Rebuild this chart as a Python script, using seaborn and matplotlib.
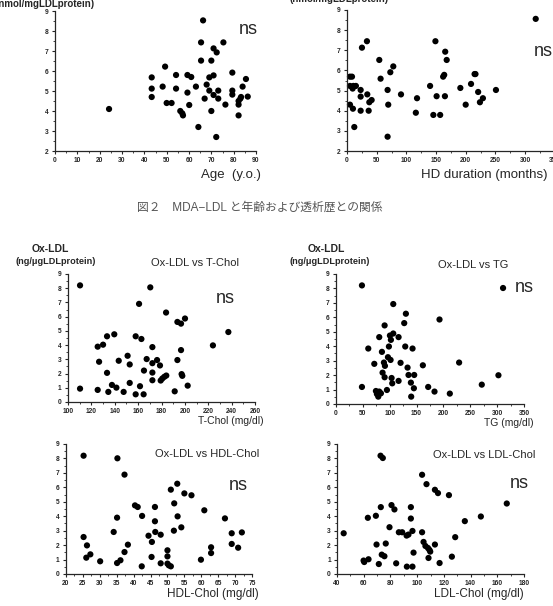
import numpy as np
import pandas as pd
import matplotlib
matplotlib.use('Agg')
import matplotlib.pyplot as plt
from matplotlib.ticker import MultipleLocator
import seaborn as sns

# MDA-LDL vs age / HD duration
age = [24.2, 43.3, 43.3, 43.3, 48.2, 49.3, 50, 52.2, 54.2, 54.2, 56.1, 57, 57.3, 59.3,
       59.3, 60.1, 61, 63.1, 64.2, 65.4, 65.4, 66.3, 67, 67.9, 69.1, 69.1, 70, 70, 71,
       71, 71, 72.4, 72.2, 73.1, 73.1, 75.4, 76.3, 79.4, 79.4, 79.4, 82.2, 82.2, 82.2,
       83, 83.3, 84, 85.5, 86.3]
mda_age = [4.1, 5.68, 5.12, 4.7, 5.22, 6.22, 4.4, 4.4, 5.8, 5.12, 4.0, 3.88, 3.78, 5.8,
           4.92, 4.3, 5.7, 5.22, 3.2, 6.52, 7.43, 8.53, 4.62, 5.32, 5.68, 5.02, 6.52, 4.0,
           7.13, 5.78, 4.8, 6.93, 2.7, 5.02, 4.62, 7.43, 4.32, 5.92, 5.02, 4.82, 3.78, 4.32,
           4.5, 4.62, 4.7, 5.22, 5.6, 4.72]

hd = [5, 8.4, 5, 10.7, 15, 9.5, 5, 10, 12.3, 23, 23, 23, 25.2, 33.6, 34.2, 37.6, 41.5,
      36.5, 54.4, 56.6, 68.4, 69.5, 68.4, 73, 78, 91, 116, 118, 140, 145.5, 149, 151, 157,
      162, 163.8, 165, 165.5, 168, 191, 200, 209, 215, 216.5, 221, 224, 229, 251, 318]
mda_hd = [5.69, 5.69, 5.23, 5.23, 5.23, 5.1, 4.3, 4.1, 3.19, 5.03, 4.7, 4.0, 7.13, 7.45,
          4.81, 4.42, 4.53, 4.0, 6.52, 5.59, 5.03, 4.3, 2.71, 5.91, 6.2, 4.81, 3.9, 4.62,
          5.23, 3.79, 7.45, 4.72, 3.79, 5.69, 5.78, 4.72, 6.93, 6.52, 5.13, 4.3, 5.33, 5.82,
          5.82, 4.93, 4.42, 4.62, 5.03, 8.56]

# Ox-LDL vs lipids
tchol = [110.3, 110.3, 125.4, 125.4, 126.6, 130, 133.4, 133.4, 134.5, 137.6, 139.6, 141.4,
         143.4, 147.6, 151, 152.8, 152.8, 157.9, 157.9, 160.8, 161.6, 162.8, 164.7, 165,
         167.3, 170.4, 172.2, 172.2, 172.2, 172.2, 176.2, 178.7, 179.3, 180.7, 182.4,
         183.9, 184.1, 191.3, 193.6, 193.6, 196.7, 196.7, 197.2, 197.8, 200.1, 202.4,
         224, 237.2]
ox_tchol = [8.2, 0.94, 3.89, 0.85, 2.83, 4.03, 4.62, 2.05, 0.71, 1.2, 4.76, 1.01, 2.9, 0.71,
            3.25, 2.64, 1.34, 4.62, 0.54, 6.9, 1.11, 4.43, 0.54, 2.21, 3.02, 8.06, 3.86,
            2.73, 2.07, 1.53, 2.95, 2.57, 1.51, 1.65, 1.77, 6.29, 1.86, 0.75, 5.63, 2.95,
            5.51, 3.65, 1.96, 1.84, 5.87, 1.15, 3.98, 4.92]

tg = [48.3, 60.1, 48.3, 71.3, 74.3, 76.2, 80.5, 80.5, 78.7, 83.6, 85.5, 86.7, 89.2, 90.5,
      90.5, 91.1, 94.8, 96.7, 98.5, 100.4, 102.2, 101.6, 103.5, 104.7, 106.6, 106.6, 116.5,
      116.5, 120.2, 127, 128.9, 130.1, 133.2, 135, 139.4, 140, 142.5, 145, 145.6, 161.7,
      171.6, 183.4, 192.7, 211.9, 229.2, 271.4, 302.4, 311]
ox_tg = [8.21, 3.84, 1.18, 2.78, 0.9, 0.69, 0.86, 4.63, 0.51, 0.74, 3.61, 2.17, 2.87, 5.44,
         1.85, 2.64, 0.97, 3.24, 3.98, 4.74, 4.44, 3.05, 1.8, 1.43, 6.92, 4.88, 4.63, 1.6,
         2.85, 5.6, 3.98, 6.25, 2.52, 2.01, 1.48, 0.51, 3.84, 1.09, 2.01, 2.68, 1.18, 0.86,
         5.85, 0.72, 2.87, 1.34, 1.99, 8.03]

hdl = [25.2, 25.2, 26.2, 26, 27.2, 30.1, 34.1, 35.2, 35.1, 35.1, 36.1, 37.3, 37.3, 38.3,
       40.4, 41.2, 42.5, 42.4, 44.4, 45.4, 45.3, 46.3, 46.3, 46.4, 48, 48, 50, 50, 50, 50.4,
       51, 51, 51.9, 52, 52.9, 53, 54.1, 55, 57.1, 59.9, 60.9, 62.9, 62.9, 67, 69, 69,
       70.9, 72]
ox_hdl = [8.19, 2.56, 1.98, 1.13, 1.36, 0.88, 2.91, 8.01, 3.9, 0.76, 0.95, 6.88, 1.52, 2.03,
          4.75, 4.64, 4.02, 0.53, 2.65, 2.22, 1.18, 4.64, 3.65, 2.91, 2.72, 0.74, 1.64, 1.22,
          0.72, 0.6, 0.53, 5.84, 3.0, 4.89, 6.25, 3.99, 3.23, 5.58, 5.45, 0.99, 4.41, 1.85,
          1.45, 3.85, 2.82, 2.08, 1.82, 2.88]

ldl = [45, 59.9, 60.4, 63.6, 63.1, 69.1, 69.6, 71.3, 72.6, 74.3, 72.8, 73.5, 75.5, 76.5,
       79.3, 80.8, 83, 84.3, 86.3, 88.8, 92.1, 93.5, 92.3, 95.3, 95.3, 96.5, 96.5, 97.3,
       103.7, 103.7, 104.8, 106.2, 107, 108.1, 108.5, 109.2, 109.8, 113.3, 113.3, 115.6,
       116.8, 123.8, 126, 128.5, 135.7, 147.7, 167.1]
ox_ldl = [2.82, 0.93, 0.83, 1.02, 3.89, 4.03, 2.04, 0.69, 8.19, 8.03, 4.63, 1.34, 1.23, 2.11,
          3.24, 4.77, 4.47, 0.74, 2.89, 2.89, 2.66, 2.73, 0.51, 4.63, 3.84, 2.98, 0.51, 1.48,
          6.87, 2.89, 2.22, 1.94, 6.22, 1.8, 1.11, 1.67, 1.55, 5.83, 2.04, 5.6, 0.76, 5.46,
          1.2, 2.55, 3.66, 3.98, 4.88]

sns.set_style('ticks')
plt.rcParams['font.family'] = ['Liberation Sans', 'Noto Sans CJK JP', 'DejaVu Sans']

W, H = 553, 606
fig = plt.figure(figsize=(W / 100, H / 100), dpi=100)


def px_axes(x0, x1, ytop, ybot):
    return fig.add_axes([x0 / W, 1 - ybot / H, (x1 - x0) / W, (ybot - ytop) / H])


def txt(x, y, s, size, **kw):
    fig.text(x / W, 1 - y / H, s, fontsize=size, ha=kw.pop('ha', 'center'),
             va=kw.pop('va', 'center'), **kw)


def panel(ax, x, y, xlim, xstep, ylim):
    df = pd.DataFrame({'x': x, 'y': y})
    sns.scatterplot(data=df, x='x', y='y', ax=ax, color='black', s=20,
                    edgecolor='none', clip_on=False)
    ax.set_xlim(*xlim)
    ax.set_ylim(*ylim)
    ax.xaxis.set_major_locator(MultipleLocator(xstep))
    ax.xaxis.set_minor_locator(MultipleLocator(xstep / 2))
    ax.yaxis.set_major_locator(MultipleLocator(1))
    ax.yaxis.set_minor_locator(MultipleLocator(0.5))
    ax.set_xlabel('')
    ax.set_ylabel('')
    sns.despine(ax=ax)
    ax.tick_params(which='major', length=2.5, width=0.8, labelsize=4.8, pad=2)
    ax.tick_params(which='minor', length=1.5, width=0.6)
    for lab in ax.get_xticklabels() + ax.get_yticklabels():
        lab.set_fontweight('bold')
    for sp in ax.spines.values():
        sp.set_linewidth(0.9)
    ax.set_facecolor('none')


# top row: MDA-LDL
ax1 = px_axes(55, 256, 11, 151)
panel(ax1, age, mda_age, (0, 90), 10, (2, 9))
ax2 = px_axes(347, 554.7, 10, 151)
panel(ax2, hd, mda_hd, (0, 350), 50, (2, 9))

# unit labels are clipped by the top edge in the original scan
txt(-4, 4, '(nmol/mgLDLprotein)', 7, ha='left', fontweight='bold')
txt(289, -1, '(nmol/mgLDLprotein)', 7, ha='left', fontweight='bold')
txt(248, 29, 'ns', 13)
txt(543, 52, 'ns', 13)
txt(231, 175, 'Age  (y.o.)', 9.5)
txt(484, 175, 'HD duration (months)', 9.5)
txt(260, 208, '図２　MDA−LDL と年齢および透析歴との関係', 8.5, color='#555555')

# middle row
ax3 = px_axes(68, 255, 274, 402)
panel(ax3, tchol, ox_tchol, (100, 260), 20, (0, 9))
ax4 = px_axes(336, 524, 274, 404)
panel(ax4, tg, ox_tg, (0, 350), 50, (0, 9))

for cx, ux in ((50, 56), (326, 330)):
    txt(cx, 249, 'Ox-LDL', 7.5, fontweight='bold')
    txt(ux, 262, '(ng/μgLDLprotein)', 6.6, fontweight='bold')
txt(195, 263, 'Ox-LDL vs T-Chol', 8)
txt(473, 265, 'Ox-LDL vs TG', 8)
txt(225, 299, 'ns', 13)
txt(524, 287, 'ns', 13)
txt(231, 421, 'T-Chol (mg/dl)', 7.5)
txt(509, 423, 'TG (mg/dl)', 7.5)

# bottom row
ax5 = px_axes(66, 252, 444, 574)
panel(ax5, hdl, ox_hdl, (20, 75), 5, (0, 9))
ax6 = px_axes(337, 524, 444, 574)
panel(ax6, ldl, ox_ldl, (40, 180), 20, (0, 9))
ax5.xaxis.set_minor_locator(MultipleLocator(2.5))

txt(207, 454, 'Ox-LDL vs HDL-Chol', 8)
txt(484, 455, 'Ox-LDL vs LDL-Chol', 8)
txt(238, 485, 'ns', 13)
txt(519, 483, 'ns', 13)
txt(213, 594, 'HDL-Chol (mg/dl)', 8.5)
txt(479, 594, 'LDL-Chol (mg/dl)', 8.5)

fig.savefig('out.png', dpi=100, facecolor='white')
